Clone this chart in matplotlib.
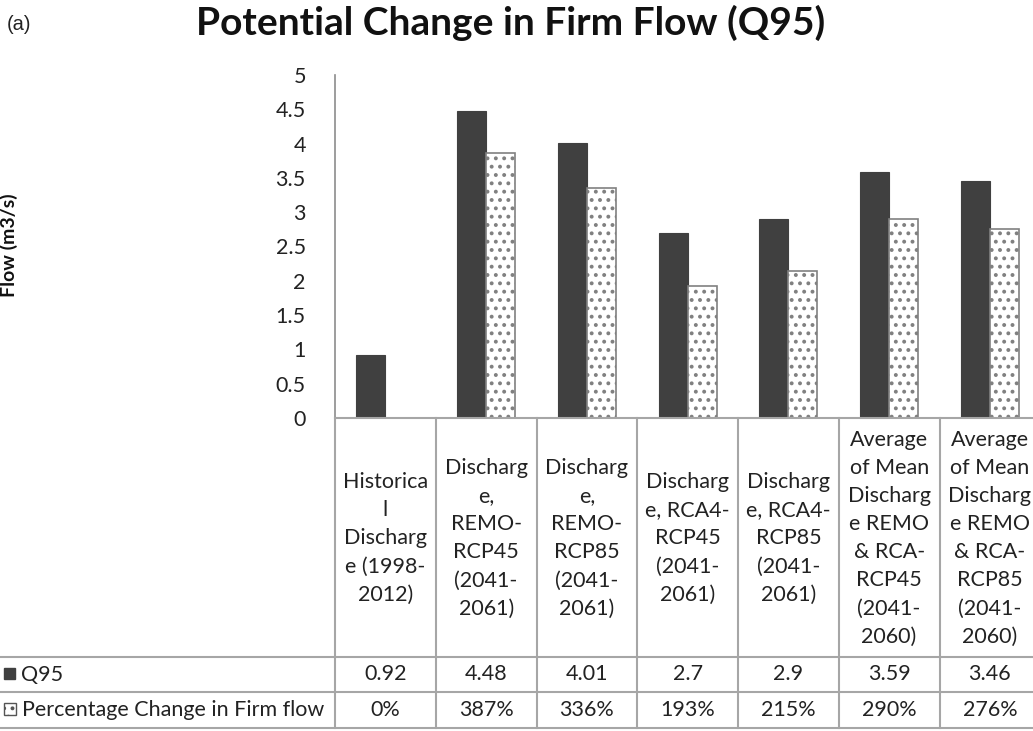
import matplotlib.pyplot as plt
from matplotlib.patches import Rectangle

plt.rcParams['font.family'] = ['Lato', 'DejaVu Sans']
plt.rcParams['hatch.color'] = '#555555'
plt.rcParams['hatch.linewidth'] = 1.6

# data
categories = [
    "Historica\nl\nDischarg\ne (1998-\n2012)",
    "Discharg\ne,\nREMO-\nRCP45\n(2041-\n2061)",
    "Discharg\ne,\nREMO-\nRCP85\n(2041-\n2061)",
    "Discharg\ne, RCA4-\nRCP45\n(2041-\n2061)",
    "Discharg\ne, RCA4-\nRCP85\n(2041-\n2061)",
    "Average\nof Mean\nDischarg\ne REMO\n& RCA-\nRCP45\n(2041-\n2060)",
    "Average\nof Mean\nDischarg\ne REMO\n& RCA-\nRCP85\n(2041-\n2060)",
]
q95 = [0.92, 4.48, 4.01, 2.7, 2.9, 3.59, 3.46]
q95_labels = ["0.92", "4.48", "4.01", "2.7", "2.9", "3.59", "3.46"]
pct_change = [0, 387, 336, 193, 215, 290, 276]
series_names = ["Q95", "Percentage Change in Firm flow"]
yticks = [0, 0.5, 1, 1.5, 2, 2.5, 3, 3.5, 4, 4.5, 5]

W, H = 1033, 731
fig = plt.figure(figsize=(W / 100, H / 100), dpi=100)

# layout in pixels
x0, colw = 335, 100.75
ytop, ybase = 75, 418
row1, row2, row3 = 657, 692, 728
ncol = len(categories)
line_col = '#a6a6a6'
txt_col = '#222222'
fs = 15.5

ax = fig.add_axes([x0 / W, 1 - ybase / H, ncol * colw / W, (ybase - ytop) / H])
bw = 29 / colw
xs = range(ncol)
ax.bar([i - bw / 2 for i in xs], q95, width=bw, color='#404040', edgecolor='#404040', lw=0.8)
ax.bar([i + bw / 2 for i in xs], [p / 100 for p in pct_change], width=bw,
       color='white', edgecolor='#808080', hatch='..', lw=1.2)
ax.set_xlim(-0.5, ncol - 0.5)
ax.set_ylim(0, 5)
ax.set_yticks(yticks)
ax.set_yticklabels([f"{t:g}" for t in yticks], fontsize=fs, color=txt_col)
ax.tick_params(axis='y', length=0, pad=21)
ax.set_xticks([])
for s in ['top', 'right', 'bottom']:
    ax.spines[s].set_visible(False)
ax.spines['left'].set_color('#8c8c8c')
ax.spines['left'].set_linewidth(1.2)

# overlay in pixel coordinates for the data table
ov = fig.add_axes([0, 0, 1, 1])
ov.set_xlim(0, W)
ov.set_ylim(H, 0)
ov.axis('off')
ov.patch.set_alpha(0)

xr = x0 + ncol * colw
ov.plot([x0, xr], [ybase, ybase], color=line_col, lw=1.5)
for y in (row1, row2, row3):
    ov.plot([0, xr], [y, y], color=line_col, lw=1.5)
for i in range(ncol + 1):
    xb = x0 + i * colw
    ov.plot([xb, xb], [ybase, row3], color=line_col, lw=1.5)

for i, cat in enumerate(categories):
    cx = x0 + (i + 0.5) * colw
    ov.text(cx, (ybase + row1) / 2 + 1, cat, ha='center', va='center', fontsize=fs,
            linespacing=1.5, color=txt_col)
    ov.text(cx, (row1 + row2) / 2, q95_labels[i], ha='center', va='center',
            fontsize=fs, color=txt_col)
    ov.text(cx, (row2 + row3) / 2, f"{pct_change[i]}%", ha='center', va='center',
            fontsize=fs, color=txt_col)

# legend keys in the table
ov.add_patch(Rectangle((4, 668), 11, 11, facecolor='#404040', edgecolor='#404040'))
ov.add_patch(Rectangle((4, 703), 12, 12, facecolor='white', edgecolor='#555555',
                       hatch='..', lw=1))
ov.text(21, (row1 + row2) / 2, series_names[0], ha='left', va='center',
        fontsize=fs, color=txt_col)
ov.text(22, (row2 + row3) / 2, series_names[1], ha='left', va='center',
        fontsize=fs, color=txt_col)

ov.text(511, 23, "Potential Change in Firm Flow (Q95)", ha='center', va='center',
        fontsize=28, fontweight='bold', color='#111111')
ov.text(7, 24, "(a)", ha='left', va='center', fontsize=14.5,
        family=['Liberation Sans', 'DejaVu Sans'], color=txt_col)
ov.text(9, 245, "Flow (m3/s)", ha='center', va='center', rotation=90,
        fontsize=14, fontweight='bold', color='#111111')

fig.savefig('out.png', dpi=100)
